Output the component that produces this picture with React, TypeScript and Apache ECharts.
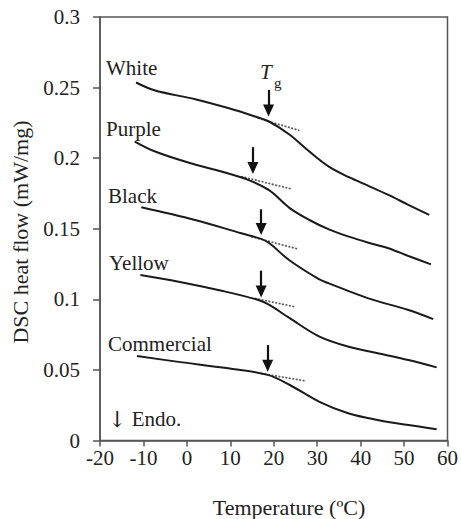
import React, { useEffect, useRef } from "react";
import * as echarts from "echarts";

// ---- data ----
const sampleNames = ["White", "Purple", "Black", "Yellow", "Commercial"];

const whiteT = [-11.7, -7.3, 1.9, 9.5, 15.5, 19.0, 23.6, 28.2, 32.7, 37.3, 41.8, 46.4, 51.0, 55.8];
const whiteV = [0.2536, 0.2479, 0.2418, 0.2355, 0.2297, 0.2258, 0.2168, 0.2047, 0.194, 0.1865, 0.1804, 0.174, 0.1669, 0.1598];

const purpleT = [-12.0, -7.3, 0.3, 8.0, 14.1, 19.0, 23.6, 28.2, 32.7, 37.3, 41.8, 46.4, 51.0, 56.2];
const purpleV = [0.2118, 0.2047, 0.1969, 0.1905, 0.1846, 0.1772, 0.1648, 0.1562, 0.1496, 0.1444, 0.1401, 0.1362, 0.1307, 0.1248];

const blackT = [-10.5, 1.9, 12.5, 17.1, 19.0, 23.6, 30.4, 32.7, 41.8, 51.0, 56.7];
const blackV = [0.1652, 0.1562, 0.1468, 0.1428, 0.1397, 0.1277, 0.1143, 0.1113, 0.1007, 0.0924, 0.086];

const yellowT = [-10.7, -1.9, 8.0, 16.3, 19.0, 23.6, 30.4, 37.3, 44.2, 51.0, 57.5];
const yellowV = [0.1172, 0.1125, 0.1061, 0.0997, 0.096, 0.0868, 0.0738, 0.0664, 0.0617, 0.057, 0.0518];

const commercialT = [-11.5, -1.9, 9.5, 18.6, 23.6, 30.4, 37.3, 44.2, 51.0, 57.5];
const commercialV = [0.0598, 0.0557, 0.0511, 0.0465, 0.0395, 0.0276, 0.0191, 0.0144, 0.0109, 0.008];

// Tg arrows: x, top y, tip y
const tgArrowX = [18.8, 15.2, 17.1, 17.1, 18.6];
const tgArrowTop = [0.2484, 0.2078, 0.1638, 0.1203, 0.0676];
const tgArrowTip = [0.2295, 0.1889, 0.1456, 0.1014, 0.0487];

// tangent (dotted) lines: x1, y1, x2, y2
const tanX1 = [16.3, 12.5, 14.8, 15.6, 17.1];
const tanY1 = [0.2284, 0.187, 0.1444, 0.1007, 0.0475];
const tanX2 = [25.9, 24.0, 25.5, 24.7, 27.4];
const tanY2 = [0.2196, 0.1782, 0.1357, 0.0948, 0.0421];

const xTicks = { min: -20, max: 60, interval: 10 };
const yTicks = { min: 0, max: 0.3, interval: 0.05 };

const FONT = "Liberation Serif";

export default function App() {
  const ref = useRef<HTMLDivElement>(null);

  useEffect(() => {
    if (!ref.current) return;
    const chart = echarts.init(ref.current, undefined, { renderer: "svg" });

    const curves = [
      [whiteT, whiteV],
      [purpleT, purpleV],
      [blackT, blackV],
      [yellowT, yellowV],
      [commercialT, commercialV],
    ];

    const headHalf = 0.0042;

    const tangentSeries = sampleNames.map((n, i) => ({
      name: n + " tangent",
      type: "line",
      silent: true,
      symbol: "none",
      data: [
        [tanX1[i], tanY1[i]],
        [tanX2[i], tanY2[i]],
      ],
      lineStyle: { color: "#555", width: 1.6, type: [2, 1.5] },
      z: 2,
    }));

    const curveSeries = sampleNames.map((n, i) => ({
      name: n,
      type: "line",
      silent: true,
      symbol: "none",
      smooth: 0.35,
      data: curves[i][0].map((t, k) => [t, curves[i][1][k]]),
      lineStyle: { color: "#1a1a1a", width: 2 },
      z: 3,
      markLine: {
        silent: true,
        symbol: ["none", "triangle"],
        symbolSize: [11, 12],
        label: { show: false },
        emphasis: { disabled: true },
        lineStyle: { color: "#111", width: 2.2, type: "solid" },
        data: [
          [
            { coord: [tgArrowX[i], tgArrowTop[i]] },
            { coord: [tgArrowX[i], tgArrowTip[i] + headHalf] },
          ],
        ],
      },
    }));

    const labelStyle = {
      fontFamily: FONT,
      fontSize: 21,
      fill: "#222",
      align: "left",
      verticalAlign: "middle",
    };

    const labelY = [67.5, 129, 195.5, 262.5, 343.7];
    const labelX = [106, 106, 108, 109, 108];

    chart.setOption({
      animation: false,
      backgroundColor: "#fff",
      grid: {
        left: 100,
        right: 11.5,
        top: 17,
        bottom: 78.5,
        show: true,
        borderColor: "#555",
        borderWidth: 1.5,
      },
      xAxis: {
        type: "value",
        min: xTicks.min,
        max: xTicks.max,
        interval: xTicks.interval,
        splitLine: { show: false },
        axisLine: { show: true, onZero: false, lineStyle: { color: "#555", width: 1.5 } },
        axisTick: { show: true, inside: false, length: 6, lineStyle: { color: "#555", width: 1.5 } },
        axisLabel: { fontFamily: FONT, fontSize: 21, color: "#222", margin: 7 },
      },
      yAxis: {
        type: "value",
        min: yTicks.min,
        max: yTicks.max,
        interval: yTicks.interval,
        splitLine: { show: false },
        axisLine: { show: true, onZero: false, lineStyle: { color: "#555", width: 1.5 } },
        axisTick: { show: true, inside: false, length: 7, lineStyle: { color: "#555", width: 1.5 } },
        axisLabel: {
          fontFamily: FONT,
          fontSize: 21,
          color: "#222",
          margin: 20,
          formatter: (v: number) => String(+v.toFixed(2)),
        },
      },
      graphic: [
        ...sampleNames.map((n, i) => ({
          type: "text",
          x: labelX[i],
          y: labelY[i],
          silent: true,
          style: { ...labelStyle, text: n },
        })),
        {
          type: "text",
          x: 108,
          y: 419,
          silent: true,
          style: {
            ...labelStyle,
            text: "{a|\u2193}{b| Endo.}",
            rich: {
              a: { fontFamily: "DejaVu Serif", fontSize: 22, fill: "#222" },
              b: { fontFamily: FONT, fontSize: 21, fill: "#222" },
            },
          },
        },
        {
          type: "text",
          x: 260,
          y: 72,
          silent: true,
          style: { ...labelStyle, text: "T", fontStyle: "italic" },
        },
        {
          type: "text",
          x: 274,
          y: 83,
          silent: true,
          style: { ...labelStyle, text: "g", fontSize: 15 },
        },
        {
          type: "text",
          x: 289,
          y: 507,
          silent: true,
          style: {
            fontFamily: FONT,
            fontSize: 22,
            fill: "#222",
            text: "Temperature (\u00baC)",
            align: "center",
            verticalAlign: "middle",
          },
        },
        {
          type: "text",
          x: 20,
          y: 232,
          rotation: Math.PI / 2,
          silent: true,
          style: {
            fontFamily: FONT,
            fontSize: 22,
            fill: "#222",
            text: "DSC heat flow (mW/mg)",
            align: "center",
            verticalAlign: "middle",
          },
        },
      ],
      series: [...tangentSeries, ...curveSeries],
    });

    return () => chart.dispose();
  }, []);

  return <div ref={ref} style={{ width: 461, height: 519, position: "absolute", left: 0, top: 0 }} />;
}
